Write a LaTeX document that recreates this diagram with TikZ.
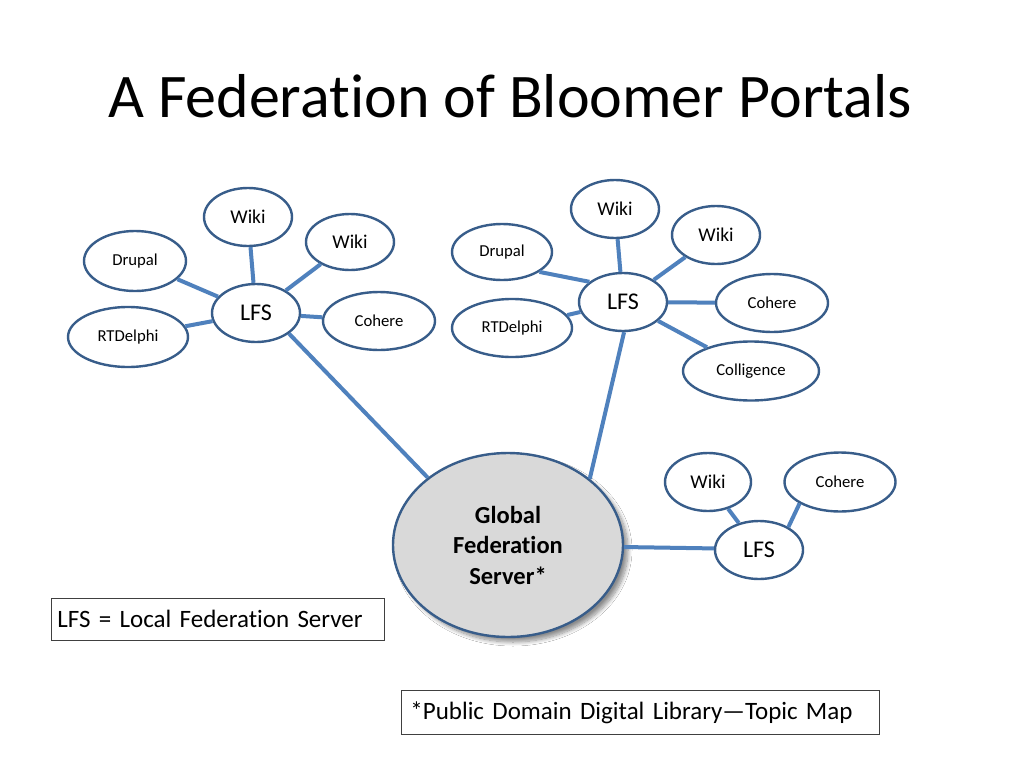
\documentclass[tikz,border=0pt]{standalone}
\usepackage{fontspec}
\setmainfont[Ligatures={NoCommon,NoContextual,NoRequired}]{Carlito}
\usetikzlibrary{shapes.geometric,shadows.blur}
\definecolor{edgeblue}{HTML}{4F81BD}
\definecolor{ringblue}{HTML}{385D8A}
\definecolor{gfsfill}{HTML}{D9D9D9}
\tikzset{
  bubble/.style={ellipse, draw=ringblue, line width=2.4pt, fill=white, inner sep=0pt,
                 font=\fontsize{16.7}{20}\selectfont},
  wikibubble/.style={bubble, font=\fontsize{19.5}{23}\selectfont},
  lfsbubble/.style={bubble, font=\fontsize{24}{28}\selectfont},
  link/.style={draw=edgeblue, line width=4pt},
  notebox/.style={draw=black!75, line width=0.8pt, anchor=north west,
                  font=\fontsize{25}{30}\selectfont}
}
\begin{document}
\begin{tikzpicture}[x=1pt,y=-1pt]
\useasboundingbox[fill=white] (0,0) rectangle (1024,768);
\node[font=\fontsize{62}{70}\selectfont] (title) at (510,96) {A Federation of Bloomer Portals};

% global server
\node[ellipse, draw=ringblue, line width=2.4pt, fill=gfsfill, minimum width=230pt, minimum height=184pt,
      inner sep=0pt, align=center, font=\bfseries\fontsize{24.5}{30.5}\selectfont,
      blur shadow={shadow xshift=5pt, shadow yshift=-5pt, shadow blur radius=4pt, shadow blur steps=10, shadow opacity=45}]
  (gfs) at (508,545) {Global\\Federation\\Server*};

% left cluster
\node[lfsbubble, minimum width=88pt, minimum height=58pt] (lfsA) at (256,313) {LFS};
\node[wikibubble, minimum width=88pt, minimum height=58pt] (wikiA1) at (248,217) {Wiki};
\node[wikibubble, minimum width=88pt, minimum height=56pt] (wikiA2) at (350,242) {Wiki};
\node[bubble, minimum width=102pt, minimum height=60pt] (drupalA) at (135,261) {Drupal};
\node[bubble, minimum width=112pt, minimum height=58pt] (cohereA) at (379,321) {Cohere};
\node[bubble, minimum width=120pt, minimum height=60pt] (rtdA) at (128,337) {RTDelphi};

% right cluster
\node[lfsbubble, minimum width=88pt, minimum height=58pt] (lfsB) at (623,302) {LFS};
\node[wikibubble, minimum width=88pt, minimum height=58pt] (wikiB1) at (615,209) {Wiki};
\node[wikibubble, minimum width=88pt, minimum height=58pt] (wikiB2) at (716,235) {Wiki};
\node[bubble, minimum width=100pt, minimum height=56pt] (drupalB) at (502,252) {Drupal};
\node[bubble, minimum width=112pt, minimum height=58pt] (cohereB) at (772,303) {Cohere};
\node[bubble, minimum width=120pt, minimum height=58pt] (rtdB) at (512,328) {RTDelphi};
\node[bubble, minimum width=136pt, minimum height=59pt] (collB) at (751,371) {Colligence};

% bottom cluster
\node[lfsbubble, minimum width=88pt, minimum height=58pt] (lfsC) at (759,550) {LFS};
\node[wikibubble, minimum width=86pt, minimum height=58pt] (wikiC) at (708,482) {Wiki};
\node[bubble, minimum width=111pt, minimum height=59pt] (cohereC) at (840,482) {Cohere};

% connectors
\path[link] (wikiA1) -- (lfsA);
\path[link] (wikiA2) -- (lfsA);
\path[link] (drupalA) -- (lfsA);
\path[link] (rtdA) -- (lfsA);
\path[link] (cohereA) -- (lfsA);
\path[link] (lfsA.-32) -- (gfs.140);

\path[link] (wikiB1) -- (lfsB);
\path[link] (wikiB2) -- (lfsB);
\path[link] (drupalB.-28) -- (lfsB.149);
\path[link] (rtdB) -- (lfsB);
\path[link] (cohereB) -- (lfsB);
\path[link] (collB) -- (lfsB);
\path[link] (lfsB.-88) -- (gfs.39);

\path[link] (wikiC) -- (lfsC);
\path[link] (lfsC.38) -- (cohereC.208);
\path[link] (gfs.-1) -- (lfsC.178);

% notes
\node[notebox, minimum width=333pt, minimum height=42pt, inner xsep=6pt, inner ysep=0pt, text width=321pt, align=left] (legend) at (51,598)
  {LFS = Local Federation Server};
\node[notebox, minimum width=478pt, minimum height=44pt, inner xsep=9pt, inner ysep=0pt, text width=460pt, align=left] (note) at (401,690)
  {*Public Domain Digital Library—Topic Map};
\end{tikzpicture}
\end{document}
